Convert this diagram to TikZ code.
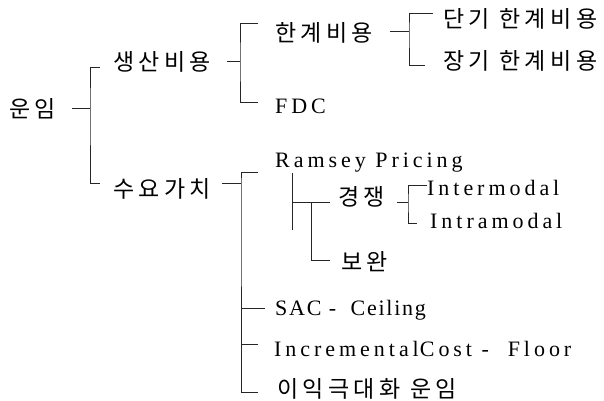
\documentclass[tikz,border=0pt]{standalone}
\usepackage{fontspec}
\setmainfont{Liberation Serif}
\newfontfamily\kofont[LetterSpace=19]{Noto Sans CJK KR}
\newfontfamily\lafont[LetterSpace=18]{Liberation Serif}
\newfontfamily\lafonttight[LetterSpace=8]{Liberation Serif}
\begin{document}
\begin{tikzpicture}[x=1pt,y=-1pt,
  ko/.style={anchor=west,inner sep=0pt,font=\kofont\fontsize{23}{27}\selectfont},
  la/.style={anchor=base west,inner sep=0pt,font=\lafont\fontsize{22}{26}\selectfont},
  latight/.style={la,font=\lafonttight\fontsize{22}{26}\selectfont},
  br/.style={line width=0.7pt,draw=black!85}]
\useasboundingbox (0,0) rectangle (604,400);
% nodes
\node[ko] (unim) at (9,109) {운임};
\node[ko] (ss) at (113,62) {생산비용};
\node[ko] (sy) at (113,189) {수요가치};
\node[ko] (hg) at (275,33) {한계비용};
\node[la] (fdc) at (275,113) {FDC};
\node[ko] (dg) at (443,19) {단기 한계비용};
\node[ko] (jg) at (443,61) {장기 한계비용};
\node[la] (rp) at (275,167) {Ramsey Pricing};
\node[ko] (gj) at (338,197) {경쟁};
\node[ko] (bw) at (341,262) {보완};
\node[la] (inter) at (427,195) {Intermodal};
\node[la] (intra) at (430,228) {Intramodal};
\node[latight] (sac) at (275,315) {SAC -\ \ Ceiling};
\node[la] (inc) at (274,356) {Incremental\kern1pt Cost -\ \ Floor};
\node[ko] (iik) at (277,389) {이익극대화 운임};
% bracket coordinates
\coordinate (a0) at (72,108);  \coordinate (a1) at (90,108);
\coordinate (aT) at (100,67);  \coordinate (aB) at (100,183);
\coordinate (b0) at (227,61);  \coordinate (b1) at (240,61);
\coordinate (bT) at (258,23);  \coordinate (bB) at (258,102);
\coordinate (c0) at (390,31);  \coordinate (c1) at (409,31);
\coordinate (cT) at (433,13);  \coordinate (cB) at (425,65);
\coordinate (d0) at (222,183); \coordinate (d1) at (241,183);
\coordinate (dT) at (258,172); \coordinate (dB) at (258,392);
\coordinate (dS) at (265,308); \coordinate (dI) at (258,344);
\coordinate (e0) at (292,173); \coordinate (e1) at (292,230);
\coordinate (e2) at (292,202); \coordinate (eG) at (330,202);
\coordinate (e3) at (311,202); \coordinate (eB) at (330,260);
\coordinate (f0) at (397,202); \coordinate (f1) at (408,202);
\coordinate (fT) at (427,185); \coordinate (fB) at (417,223);
% connectors
\draw[br] (a0) -- (a1);
\draw[br] (aT) -| (a1) |- (aB);
\draw[br] (b0) -- (b1);
\draw[br] (bT) -| (b1) |- (bB);
\draw[br] (c0) -- (c1);
\draw[br] (cT) -| (c1) |- (cB);
\draw[br] (d0) -- (d1);
\draw[br] (dT) -| (d1) |- (dB);
\draw[br] (d1 |- dS) -- (dS);
\draw[br] (d1 |- dI) -- (dI);
\draw[br] (e0) -- (e1);
\draw[br] (e2) -- (eG);
\draw[br] (e3) |- (eB);
\draw[br] (f0) -- (f1);
\draw[br] (fT) -| (f1) |- (fB);
\end{tikzpicture}
\end{document}
